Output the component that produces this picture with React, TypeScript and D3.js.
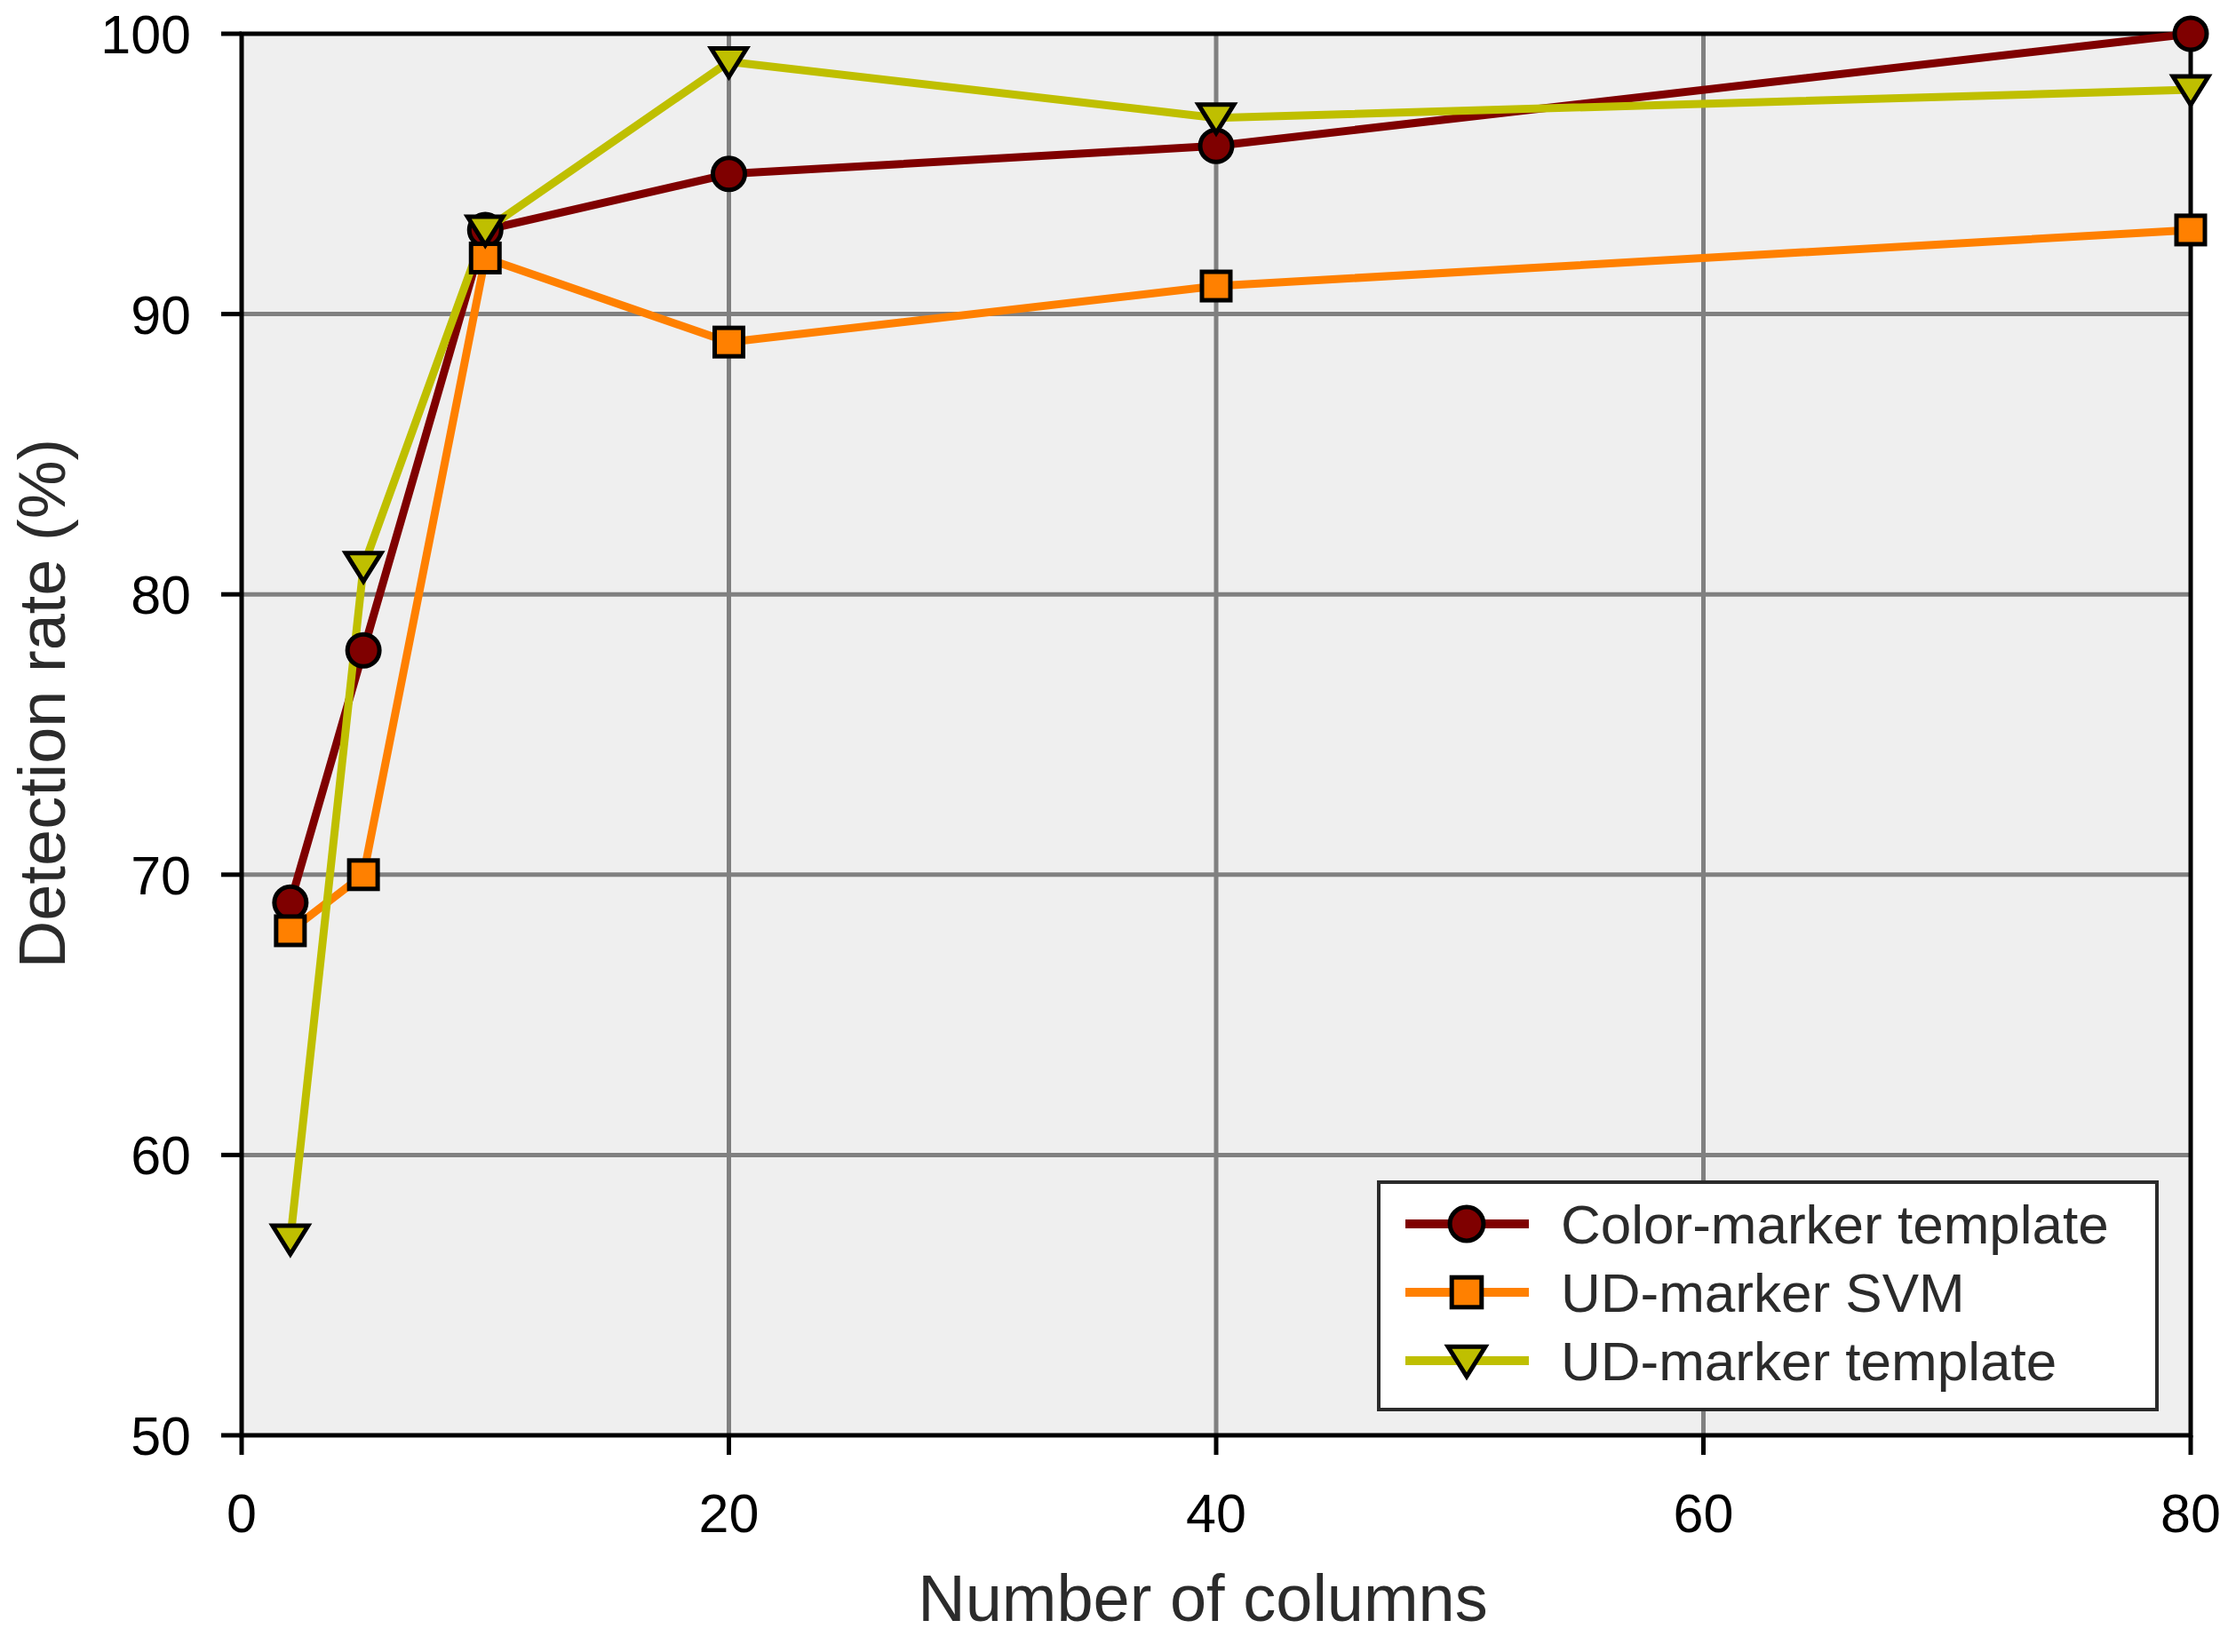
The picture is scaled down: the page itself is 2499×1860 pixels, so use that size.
import React from 'react';
import * as d3 from 'd3';

const columns = [2, 5, 10, 20, 40, 80];
const colorMarkerTemplate = [69, 78, 93, 95, 96, 100];
const udMarkerSvm = [68, 70, 92, 89, 91, 93];
const udMarkerTemplate = [57, 81, 93, 99, 97, 98];

const xTicks = [0, 20, 40, 60, 80];
const yTicks = [50, 60, 70, 80, 90, 100];

const seriesNames = ['Color-marker template', 'UD-marker SVM', 'UD-marker template'];
const seriesColors = ['#7f0000', '#ff8000', '#bfbf00'];
const seriesShapes = ['circle', 'square', 'triangle'];

const W = 2499;
const H = 1860;
const margin = { top: 38, right: 33, bottom: 244, left: 272 };
const font = 'Liberation Sans, Arial, Helvetica, sans-serif';

function Marker({ shape, x, y, color, big = false }) {
  const k = big ? 1.05 : 1;
  if (shape === 'circle') {
    return <circle cx={x} cy={y} r={18 * k} fill={color} stroke="#000" strokeWidth={5} />;
  }
  if (shape === 'square') {
    const s = 32 * k;
    return <rect x={x - s / 2} y={y - s / 2} width={s} height={s} fill={color} stroke="#000" strokeWidth={5} />;
  }
  const pts = [
    [x - 20 * k, y - 15 * k],
    [x + 20 * k, y - 15 * k],
    [x, y + 17 * k],
  ];
  return <polygon points={pts.map((p) => p.join(',')).join(' ')} fill={color} stroke="#000" strokeWidth={5} />;
}

export default function App() {
  const width = W - margin.left - margin.right;
  const height = H - margin.top - margin.bottom;

  const x = d3.scaleLinear().domain([0, 80]).range([margin.left, margin.left + width]);
  const y = d3.scaleLinear().domain([50, 100]).range([margin.top + height, margin.top]);

  const allSeries = [colorMarkerTemplate, udMarkerSvm, udMarkerTemplate];

  const line = d3
    .line<number>()
    .x((_, i) => x(columns[i]))
    .y((d) => y(d));

  const left = x(0);
  const right = x(80);
  const top = y(100);
  const bottom = y(50);

  // legend box
  const lg = { x: 1552, y: 1331, w: 876, h: 256 };
  const rowY = [1378, 1455, 1532];

  return (
    <svg width={W} height={H} style={{ position: 'absolute', left: 0, top: 0, background: '#fff' }}>
      <rect x={left} y={top} width={right - left} height={bottom - top} fill="#efefef" />

      {xTicks.slice(1, -1).map((t) => (
        <line key={'gx' + t} x1={x(t)} x2={x(t)} y1={top} y2={bottom} stroke="#808080" strokeWidth={5} />
      ))}
      {yTicks.slice(1, -1).map((t) => (
        <line key={'gy' + t} x1={left} x2={right} y1={y(t)} y2={y(t)} stroke="#808080" strokeWidth={5} />
      ))}

      <rect x={left} y={top} width={right - left} height={bottom - top} fill="none" stroke="#000" strokeWidth={5} />

      {xTicks.map((t) => (
        <g key={'tx' + t}>
          <line x1={x(t)} x2={x(t)} y1={bottom} y2={bottom + 22} stroke="#000" strokeWidth={5} />
          <text x={x(t)} y={1725} textAnchor="middle" fontFamily={font} fontSize={61} fill="#000">
            {t}
          </text>
        </g>
      ))}
      {yTicks.map((t) => (
        <g key={'ty' + t}>
          <line x1={left - 23} x2={left} y1={y(t)} y2={y(t)} stroke="#000" strokeWidth={5} />
          <text x={215} y={y(t) + 22} textAnchor="end" fontFamily={font} fontSize={61} fill="#000">
            {t}
          </text>
        </g>
      ))}

      <text x={1354} y={1825} textAnchor="middle" fontFamily={font} fontSize={74} fill="#2b2b2b">
        Number of columns
      </text>
      <text
        transform={`translate(73,${(top + bottom) / 2 - 35}) rotate(-90)`}
        textAnchor="middle"
        fontFamily={font}
        fontSize={74}
        fill="#2b2b2b"
      >
        Detection rate (%)
      </text>

      {allSeries.map((s, si) => (
        <path key={'l' + si} d={line(s) || ''} fill="none" stroke={seriesColors[si]} strokeWidth={9} strokeLinejoin="round" />
      ))}
      {allSeries.map((s, si) =>
        s.map((v, i) => (
          <Marker key={`m${si}-${i}`} shape={seriesShapes[si]} x={x(columns[i])} y={y(v)} color={seriesColors[si]} />
        )),
      )}

      <rect x={lg.x} y={lg.y} width={lg.w} height={lg.h} fill="#fff" stroke="#2b2b2b" strokeWidth={4} />
      {seriesNames.map((name, i) => (
        <g key={'lg' + i}>
          <line x1={1582} x2={1721} y1={rowY[i]} y2={rowY[i]} stroke={seriesColors[i]} strokeWidth={10} />
          <Marker shape={seriesShapes[i]} x={1651} y={rowY[i]} color={seriesColors[i]} big />
          <text x={1757} y={rowY[i] + 22} fontFamily={font} fontSize={62} fill="#2b2b2b">
            {name}
          </text>
        </g>
      ))}
    </svg>
  );
}
